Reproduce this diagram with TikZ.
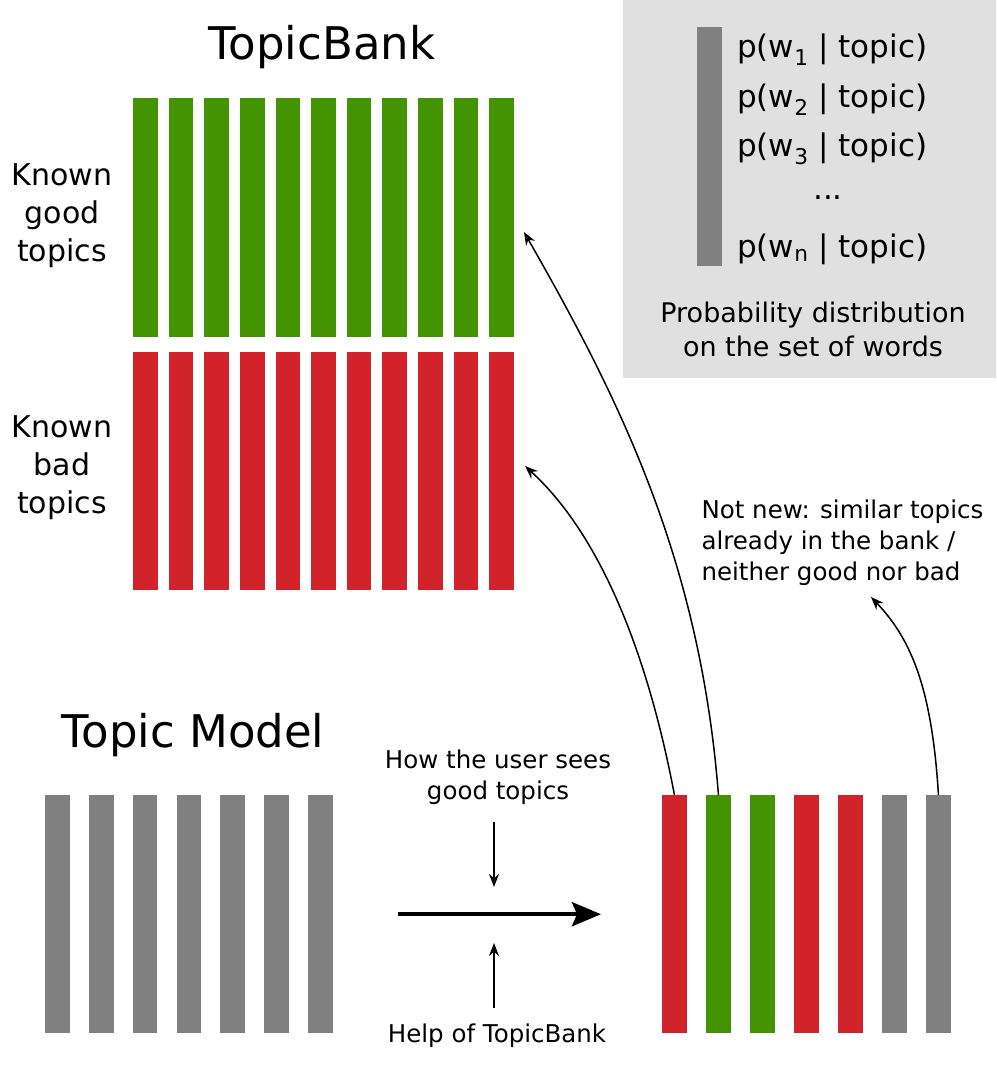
\documentclass[tikz,border=0pt]{standalone}
\usepackage{fontspec}
\setmainfont{DejaVu Sans}
\usetikzlibrary{arrows.meta, positioning}

\definecolor{goodGreen}{HTML}{439400}
\definecolor{badRed}{HTML}{D3232A}
\definecolor{topicGray}{HTML}{808080}
\definecolor{boxGray}{HTML}{E0E0E0}

\begin{document}
\begin{tikzpicture}[
        x=1pt, y=-1pt,
        % styles
        baseBar/.style={rectangle, inner sep=0pt, anchor=north west, minimum width=24.5pt, minimum height=238pt},
        % bar styles
        barGood/.style={baseBar, fill=goodGreen},
        barBad/.style={baseBar, fill=badRed},
        barGray/.style={baseBar, fill=topicGray},
        % label styles
        titleLbl/.style={font=\fontsize{45}{52}\selectfont},
        sideLbl/.style={font=\fontsize{30}{38}\selectfont, align=center},
        probLbl/.style={font=\fontsize{31}{36}\selectfont, anchor=base west, inner sep=0pt},
        noteLbl/.style={font=\fontsize{27}{34}\selectfont, align=center},
        smallLbl/.style={font=\fontsize{24.5}{31}\selectfont, align=center},
        % connector styles
        conn/.style={-{Stealth[length=13pt, width=10pt]}, line width=1.5pt},
        bigArrow/.style={-{Stealth[length=29pt, width=24pt, inset=5pt]}, line width=4pt}
    ]

    \useasboundingbox (0,0) rectangle (996,1083);

    % nodes

    % topic bank: good and bad rows
    \node [titleLbl] (bankTitle) at (322,47) {TopicBank};
    \foreach \i in {1,...,11} {
        \node [barGood, minimum height=239pt] (good\i) at ({133+35.6*(\i-1)},98) {};
        \node [barBad] (bad\i) at ({133+35.6*(\i-1)},352) {};
    }
    \node [sideLbl] (goodLbl) at (62,216) {Known\\good\\topics};
    \node [sideLbl] (badLbl) at (62,468) {Known\\bad\\topics};

    % legend box: one topic as a distribution
    \node [rectangle, fill=boxGray, inner sep=0pt, anchor=north west, minimum width=373pt, minimum height=378pt] (legendBox) at (623,0) {};
    \node [barGray, minimum width=25pt, minimum height=239pt] (legendBar) at (697,27) {};
    \foreach \s/\yy in {1/58, 2/108, 3/157, n/258}
        \node [probLbl] (prob\s) at (737,\yy) {p(w\textsubscript{\s} | topic)};
    \node [probLbl, anchor=base] (probDots) at (828,200) {...};
    \node [noteLbl] (legendLbl) at (813,329) {Probability distribution\\on the set of words};

    % topic model and its labelled output
    \node [titleLbl] (modelTitle) at (193,735) {Topic Model};
    \foreach \i in {1,...,7}
        \node [barGray] (tm\i) at ({45+43.8*(\i-1)},795) {};
    \foreach \c [count=\i] in {barBad, barGood, barGood, barBad, barBad, barGray, barGray}
        \node [\c] (res\i) at ({662+44*(\i-1)},795) {};

    \node [smallLbl] (userLbl) at (498,777) {How the user sees\\good topics};
    \node [smallLbl] (helpLbl) at (497,1036) {Help of TopicBank};
    \node [smallLbl, align=left, anchor=west] (notNewLbl) at (698,543) {Not new: similar topics\\already in the bank /\\neither good nor bad};

    % coordinates for free arrow ends
    \coordinate (goodIn) at (524,232);
    \coordinate (badIn) at (525,466);
    \coordinate (notNewIn) at (871,597);
    \coordinate (userTop) at (494,822);
    \coordinate (userBot) at (494,887);
    \coordinate (helpBot) at (494,1008);
    \coordinate (helpTop) at (494,943);

    % connections

    % main flow
    \draw [bigArrow, shorten <=65pt, shorten >=61pt] (tm7.east) -- (res1.west);
    \draw [conn] (userTop) -- (userBot);
    \draw [conn] (helpBot) -- (helpTop);

    % back into the bank
    \draw [conn] (res1.north) .. controls (645,640) and (595,530) .. (badIn);
    \draw [conn] (res2.north) .. controls (700,560) and (620,400) .. (goodIn);
    \draw [conn] (res7.north) .. controls (932,690) and (912,640) .. (notNewIn);

\end{tikzpicture}
\end{document}
